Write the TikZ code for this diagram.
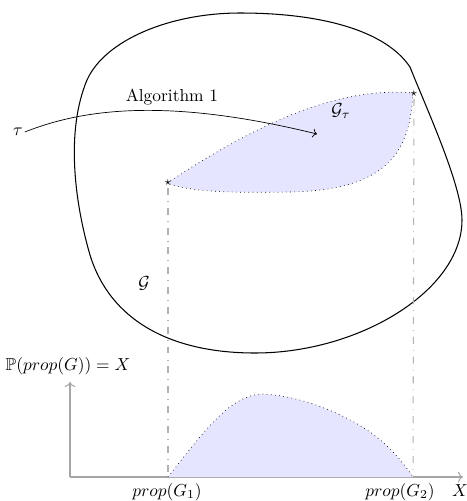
\documentclass[tikz,border=0pt]{standalone}
\usepackage{amssymb}
\usetikzlibrary{arrows.meta}
\begin{document}
\begin{tikzpicture}[x=0.575pt,y=-0.575pt,
  blob/.style={line width=0.6pt},
  region/.style={fill=blue!10, draw=black, dotted},
  guide/.style={gray!60, semithick, dash pattern=on 4pt off 3.5pt on 0.4pt off 3.5pt},
  axisline/.style={gray!70, semithick, ->},
  lbl/.style={inner sep=1pt}]
\useasboundingbox (0,0) rectangle (467,501);
% outer set G
\draw[blob] (240,13) .. controls (320,13) and (385,30) .. (410,67)
  .. controls (425,105) and (462,185) .. (462,220)
  .. controls (462,290) and (360,353) .. (255,353)
  .. controls (170,353) and (110,320) .. (90,255)
  .. controls (74,200) and (66,130) .. (87,80)
  .. controls (105,40) and (170,13) .. (240,13) -- cycle;
% region G_tau
\draw[region] (167,183) .. controls (240,135) and (330,85) .. (413,93)
  .. controls (410,150) and (390,190) .. (290,192)
  .. controls (230,193) and (190,192) .. (167,183) -- cycle;
\coordinate (s1) at (168,183);
\coordinate (s2) at (414,94);
\node[lbl, font=\scriptsize] (st1) at (s1) {$\star$};
\node[lbl, font=\scriptsize] (st2) at (s2) {$\star$};
% labels
\node[lbl] (tau) at (18,132) {$\tau$};
\node[lbl] (gtau) at (341,111) {$\mathcal{G}_\tau$};
\node[lbl] (g) at (144,283) {$\mathcal{G}$};
\node[lbl] (alg) at (172,97) {Algorithm 1};
\coordinate (tip) at (317,134);
\draw[->] (tau.east) .. controls (85,108) and (170,98) .. (tip);
% axes
\coordinate (O) at (70,477);
\coordinate (xend) at (463,477);
\coordinate (yend) at (70,382);
\draw[axisline] (O) -- (xend);
\draw[axisline] (O) -- (yend);
\node[lbl] (ylab) at (68,366) {$\mathbb{P}(prop(G)) = X$};
\node[lbl] (xlab) at (460,491) {$X$};
\coordinate (b1) at (168,477);
\coordinate (b2) at (413,477);
\node[lbl, anchor=north] (p1) at (167,481) {$prop(G_1)$};
\node[lbl, anchor=north] (p2) at (400,481) {$prop(G_2)$};
% guides
\draw[guide] (st1) -- (b1);
\draw[guide] (st2) -- (b2);
% distribution
\fill[blue!10] (b1) .. controls (205,430) and (230,395) .. (263,394)
  .. controls (300,396) and (340,412) .. (367,430)
  .. controls (385,442) and (400,458) .. (b2) -- cycle;
\draw[dotted] (b1) .. controls (205,430) and (230,395) .. (263,394)
  .. controls (300,396) and (340,412) .. (367,430)
  .. controls (385,442) and (400,458) .. (b2);
\end{tikzpicture}
\end{document}
